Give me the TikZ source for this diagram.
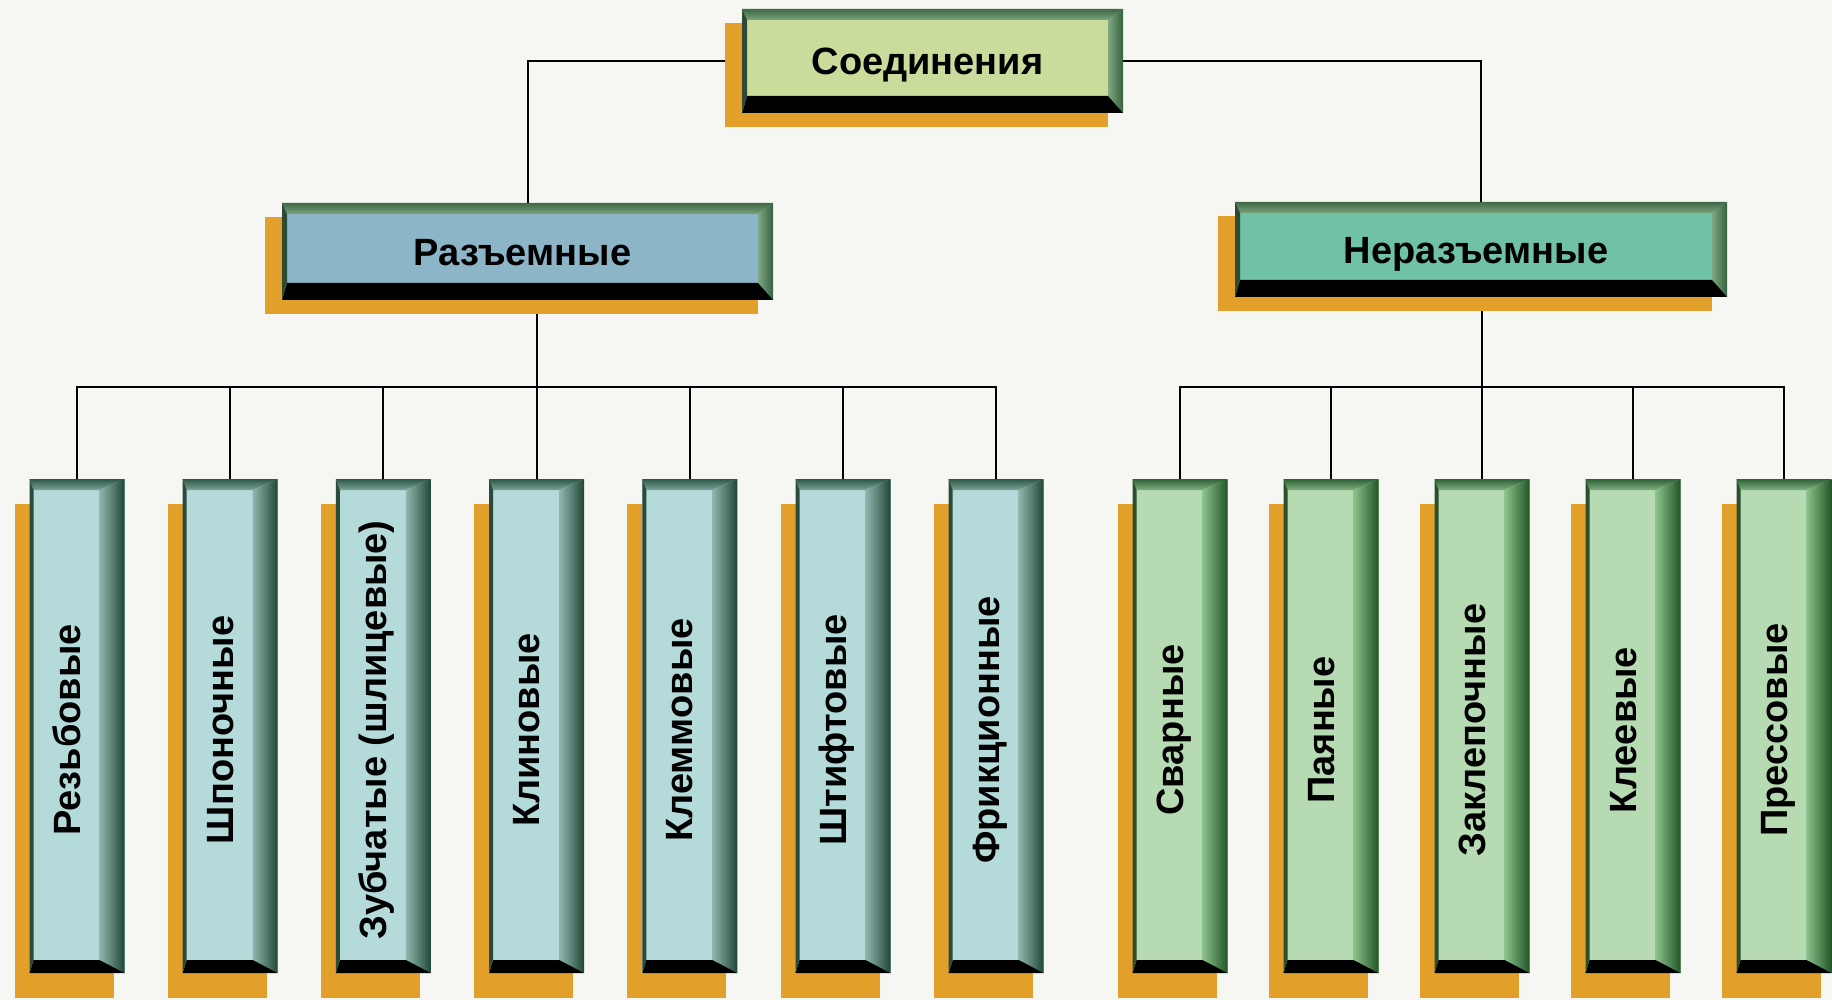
\documentclass[tikz,border=0pt]{standalone}
\usepackage{fontspec}
\setmainfont{Liberation Sans}
\usetikzlibrary{calc}
\pgfdeclarelayer{bg}
\pgfsetlayers{bg,main}

\definecolor{orangeC}{HTML}{E2A02A}
\definecolor{paperC}{HTML}{F6F6F3}
\definecolor{faceTop}{HTML}{C9DC9C}
\definecolor{faceRaz}{HTML}{8CB6C8}
\definecolor{faceNer}{HTML}{6FC2A6}
\definecolor{faceL}{HTML}{B4DADA}
\definecolor{faceR}{HTML}{B6DAB2}
% horizontal boxes bevels
\definecolor{hTopA}{HTML}{3E6A48}
\definecolor{hTopB}{HTML}{7AA27C}
\definecolor{hRA}{HTML}{7FA882}
\definecolor{hRB}{HTML}{35613E}
\definecolor{hL}{HTML}{2C4A34}
% left vertical group bevels
\definecolor{lTopA}{HTML}{2E5846}
\definecolor{lTopB}{HTML}{7CA497}
\definecolor{lRA}{HTML}{8FB7AE}
\definecolor{lRM}{HTML}{4C7D6A}
\definecolor{lRB}{HTML}{1F4737}
\definecolor{lL}{HTML}{2A4A3C}
% right vertical group bevels
\definecolor{rTopA}{HTML}{2E6236}
\definecolor{rTopB}{HTML}{7EAF80}
\definecolor{rRA}{HTML}{8CC28C}
\definecolor{rRM}{HTML}{4A8A4E}
\definecolor{rRB}{HTML}{215526}
\definecolor{rL}{HTML}{2A4E2E}
\definecolor{hRM}{HTML}{5A8A60}

\tikzset{
  conn/.style={draw=black, line width=1pt},
  boxnode/.style={rectangle, inner sep=0pt, outer sep=0pt},
  txt/.style={inner sep=0pt, font=\bfseries\fontsize{19}{21}\selectfont,
              text height=13.6pt, text depth=0pt}
}

% #1 name, #2 cx, #3 cy, #4 w, #5 h, #6 face colour, #7 text, #8 rotation
\newcommand\bevbox[8]{%
  \pgfmathsetmacro\bxA{#2-#4/2}\pgfmathsetmacro\bxB{#2+#4/2}%
  \pgfmathsetmacro\byA{#3-#5/2}\pgfmathsetmacro\byB{#3+#5/2}%
  \fill[orangeC] (\bxA-\sdl,\byA+\sdy) rectangle (\bxB-\sdr,\byB+\sdy);
  \fill[#6] (\bxA,\byA) rectangle (\bxB,\byB);
  \shade[top color=\btA, bottom color=\btB]
    (\bxA,\byA) -- (\bxB,\byA) -- (\bxB-\br,\byA+\bt) -- (\bxA+\bl,\byA+\bt) -- cycle;
  \shade[left color=\brA, middle color=\brM, right color=\brB]
    (\bxB,\byA) -- (\bxB,\byB) -- (\bxB-\br,\byB-\bb) -- (\bxB-\br,\byA+\bt) -- cycle;
  \fill[black]
    (\bxA,\byB) -- (\bxB,\byB) -- (\bxB-\br,\byB-\bb) -- (\bxA+\bl,\byB-\bb) -- cycle;
  \fill[\blC]
    (\bxA,\byA) -- (\bxA+\bl,\byA+\bt) -- (\bxA+\bl,\byB-\bb) -- (\bxA,\byB) -- cycle;
  \node[boxnode, minimum width=#4*0.5pt, minimum height=#5*0.5pt] (#1) at (#2,#3) {};
  \node[txt, rotate=#8] (#1-t) at (#2+\bl/2-\br/2, #3+\tdy) {#7};
}

\begin{document}
\begin{tikzpicture}[x=0.5pt, y=-0.5pt]
\useasboundingbox (0,0) rectangle (1832,1000);
\begin{pgfonlayer}{bg}
  \fill[paperC] (0,0) rectangle (1832,1000);
\end{pgfonlayer}

% ---------- horizontal boxes ----------
\def\bt{11}\def\br{15}\def\bb{17}\def\bl{5}
\def\sdl{17}\def\sdr{15}\def\sdy{14}\def\tdy{0}
\def\btA{hTopA}\def\btB{hTopB}\def\brA{hRA}\def\brM{hRM}\def\brB{hRB}\def\blC{hL}
\bevbox{top}{932.5}{61}{381}{104}{faceTop}{Соединения}{0}
\bevbox{raz}{527.5}{251.5}{491}{97}{faceRaz}{Разъемные}{0}
\bevbox{ner}{1481}{249.5}{492}{95}{faceNer}{Неразъемные}{0}

% ---------- vertical boxes ----------
\def\bt{11}\def\br{25}\def\bb{13}\def\bl{4}
\def\sdl{15}\def\sdr{11}\def\sdy{25}\def\tdy{4}
\def\btA{lTopA}\def\btB{lTopB}\def\brA{lRA}\def\brM{lRM}\def\brB{lRB}\def\blC{lL}
\bevbox{r1}{77}{726}{95}{494}{faceL}{Резьбовые}{90}
\bevbox{r2}{230.2}{726}{95}{494}{faceL}{Шпоночные}{90}
\bevbox{r3}{383.4}{726}{95}{494}{faceL}{Зубчатые (шлицевые)}{90}
\bevbox{r4}{536.6}{726}{95}{494}{faceL}{Клиновые}{90}
\bevbox{r5}{689.8}{726}{95}{494}{faceL}{Клеммовые}{90}
\bevbox{r6}{843}{726}{95}{494}{faceL}{Штифтовые}{90}
\bevbox{r7}{996.2}{726}{95}{494}{faceL}{Фрикционные}{90}

\def\btA{rTopA}\def\btB{rTopB}\def\brA{rRA}\def\brM{rRM}\def\brB{rRB}\def\blC{rL}
\bevbox{n1}{1180}{726}{95}{494}{faceR}{Сварные}{90}
\bevbox{n2}{1331}{726}{95}{494}{faceR}{Паяные}{90}
\bevbox{n3}{1482}{726}{95}{494}{faceR}{Заклепочные}{90}
\bevbox{n4}{1633}{726}{95}{494}{faceR}{Клеевые}{90}
\bevbox{n5}{1784}{726}{95}{494}{faceR}{Прессовые}{90}

% ---------- connectors ----------
\coordinate (bus) at (0,387);
\begin{pgfonlayer}{bg}
  \draw[conn] (top.west) -| (raz.north);
  \draw[conn] (top.east) -| (ner.north);
  \draw[conn] (raz.south -| r4.north) -- (r4.north);
  \draw[conn] (r1.north) -- (r1.north |- bus) -- (r7.north |- bus) -- (r7.north);
  \foreach \i in {2,3,5,6} \draw[conn] (r\i.north) -- (r\i.north |- bus);
  \draw[conn] (ner.south -| n3.north) -- (n3.north);
  \draw[conn] (n1.north) -- (n1.north |- bus) -- (n5.north |- bus) -- (n5.north);
  \foreach \i in {2,4} \draw[conn] (n\i.north) -- (n\i.north |- bus);
\end{pgfonlayer}
\end{tikzpicture}
\end{document}
